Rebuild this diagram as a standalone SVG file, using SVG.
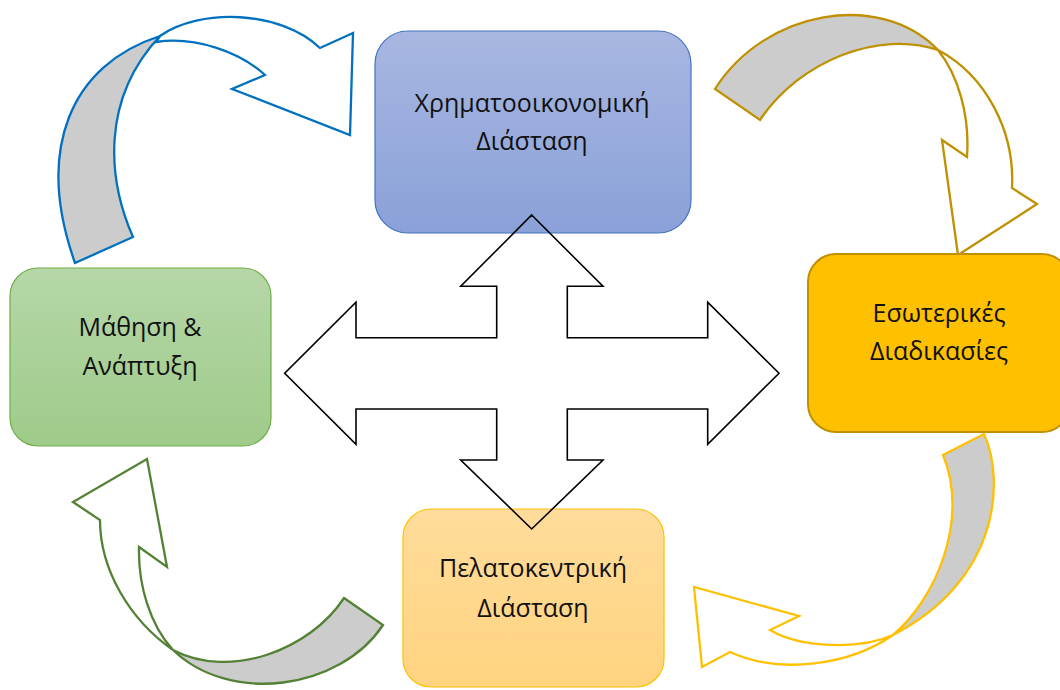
<svg xmlns="http://www.w3.org/2000/svg" width="1060" height="690" viewBox="0 0 1060 690">
  <defs>
    <linearGradient id="gBlue" x1="0" y1="0" x2="0" y2="1">
      <stop offset="0" stop-color="#a8b7e1"/>
      <stop offset="1" stop-color="#8aa1d8"/>
    </linearGradient>
    <linearGradient id="gGreen" x1="0" y1="0" x2="0" y2="1">
      <stop offset="0" stop-color="#b6d7a8"/>
      <stop offset="1" stop-color="#9ecb8a"/>
    </linearGradient>
    <linearGradient id="gPeach" x1="0" y1="0" x2="0" y2="1">
      <stop offset="0" stop-color="#ffdc9b"/>
      <stop offset="1" stop-color="#ffd480"/>
    </linearGradient>
    <style>
      .lbl { font-family: "Open Sans", "Noto Sans", "DejaVu Sans", sans-serif; font-size: 25px; fill: #111; text-anchor: middle; }
      .back { fill: #cccccc; stroke-width: 2.3; stroke-linejoin: miter; }
      .front { fill: #ffffff; stroke-width: 2.3; stroke-linejoin: miter; }
      .blue { stroke: #0070c0; }
      .gold { stroke: #bf9000; }
      .amber { stroke: #ffc000; }
      .green { stroke: #548235; }
      .cross { fill: none; stroke: #000; stroke-width: 1.6; }
    </style>
  </defs>

  <rect width="1060" height="690" fill="#ffffff"/>

  <!-- curved cycle arrows -->
  <g id="connectors">
    <g id="arrow-learning-to-finance">
      <path class="back blue" d="M75,263 C35,150 70,65 160,36 C100,100 108,180 133,237 Z"/>
      <path class="front blue" d="M160,36 C200,8 280,10 320,48 L353,33 L350,135 L232,89 L265,75 C240,52 195,36 156,42 Z"/>
    </g>
    <g id="arrow-finance-to-internal">
      <path class="back gold" d="M715,89 C765,10 880,-10 938,50 C880,30 800,60 760,120 Z"/>
      <path class="front gold" d="M938,50 C985,75 1015,130 1012,188 L1037,204 L958,255 L942,140 L967,157 C970,115 958,75 938,50 Z"/>
    </g>
    <g id="arrow-internal-to-customer">
      <path class="back amber" d="M943,455 L984,434 C1005,480 1000,580 893,635 C935,600 970,520 943,455 Z"/>
      <path class="front amber" d="M893,635 C850,665 780,675 730,652 L702,667 L694,587 L799,616 L770,630 C800,648 860,650 893,635 Z"/>
    </g>
    <g id="arrow-customer-to-learning">
      <path class="back green" d="M344,598 L383,625 C340,690 230,705 173,650 C230,680 310,650 344,598 Z"/>
      <path class="front green" d="M173,650 C130,620 100,570 100,520 L73,502 L147,459 L167,567 L139,547 C138,585 150,625 173,650 Z"/>
    </g>
  </g>

  <g id="node-finance">
    <rect x="375" y="31" width="316" height="202" rx="33" fill="url(#gBlue)" stroke="#4472c4" stroke-width="1.2"/>
    <text class="lbl" x="532" y="112">Χρηματοοικονομική</text>
    <text class="lbl" x="532" y="150">Διάσταση</text>
  </g>

  <g id="node-learning">
    <rect x="10" y="268" width="261" height="178" rx="28" fill="url(#gGreen)" stroke="#70ad47" stroke-width="1.2"/>
    <text class="lbl" x="140" y="336">Μάθηση &amp;</text>
    <text class="lbl" x="140" y="375">Ανάπτυξη</text>
  </g>

  <g id="node-internal">
    <rect x="808" y="254" width="262" height="178" rx="28" fill="#ffc000" stroke="#bf9000" stroke-width="2"/>
    <text class="lbl" x="939" y="322">Εσωτερικές</text>
    <text class="lbl" x="939" y="360">Διαδικασίες</text>
  </g>

  <g id="node-customer">
    <rect x="403" y="509" width="261" height="178" rx="28" fill="url(#gPeach)" stroke="#ffc000" stroke-width="1.2"/>
    <text class="lbl" x="533" y="577">Πελατοκεντρική</text>
    <text class="lbl" x="533" y="617">Διάσταση</text>
  </g>

  <!-- four-way arrow in the middle -->
  <g id="cross-arrow">
    <path class="cross" d="M531.7,215 L603,286.3 L567.3,286.3 L567.3,337.7 L707.7,337.7 L707.7,302.3 L779,373.3 L707.7,444.3 L707.7,409 L567.3,409 L567.3,460 L603,460 L531.7,529 L460.7,460 L496.7,460 L496.7,409 L356,409 L356,444.3 L284.7,373.3 L356,302.3 L356,337.7 L496.7,337.7 L496.7,286.3 L460.7,286.3 Z"/>
  </g>
</svg>
